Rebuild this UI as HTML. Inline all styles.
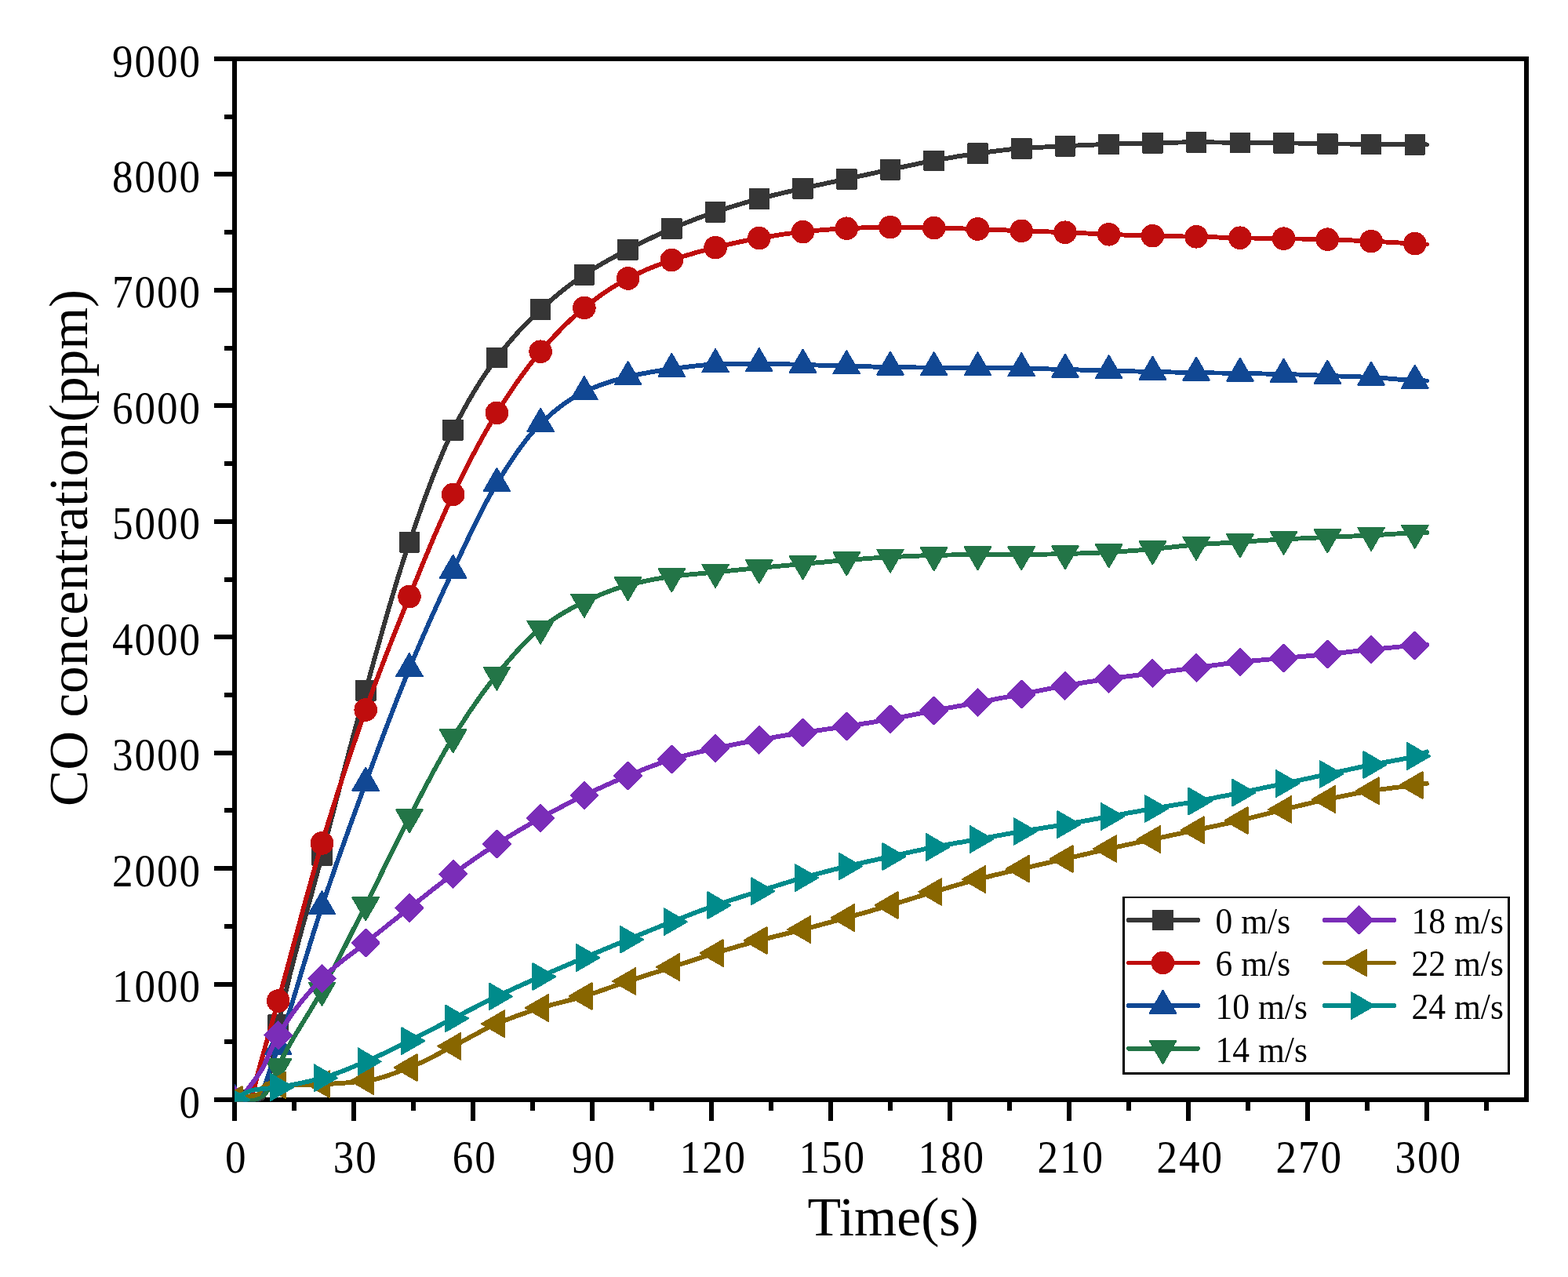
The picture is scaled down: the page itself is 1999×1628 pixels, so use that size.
<!DOCTYPE html>
<html lang="en">
<head>
<meta charset="utf-8">
<title>CO concentration vs Time</title>
<style>
html,body{margin:0;padding:0;background:#fff;}
body{width:1999px;height:1628px;overflow:hidden;}
svg{display:block;}
text{font-family:"Liberation Serif",serif;fill:#000;}
.tk{font-size:59px;}
.ax{font-size:69.7px;}
.ay{font-size:69.2px;}
.lg{font-size:43.5px;}
</style>
</head>
<body>
<svg width="1999" height="1628" viewBox="0 0 1999 1628">
<rect x="0" y="0" width="1999" height="1628" fill="#ffffff"/>
<defs><clipPath id="plotclip"><rect x="299" y="72" width="1650" height="1332.5"/></clipPath></defs>
<g id="axes" stroke="#000" stroke-width="6" fill="none" stroke-linecap="butt" shape-rendering="crispEdges">
<rect x="299" y="75" width="1647" height="1327"/>
<line x1="273" y1="1402.00" x2="299" y2="1402.00"/>
<line x1="286" y1="1328.28" x2="299" y2="1328.28"/>
<line x1="273" y1="1254.56" x2="299" y2="1254.56"/>
<line x1="286" y1="1180.83" x2="299" y2="1180.83"/>
<line x1="273" y1="1107.11" x2="299" y2="1107.11"/>
<line x1="286" y1="1033.39" x2="299" y2="1033.39"/>
<line x1="273" y1="959.67" x2="299" y2="959.67"/>
<line x1="286" y1="885.94" x2="299" y2="885.94"/>
<line x1="273" y1="812.22" x2="299" y2="812.22"/>
<line x1="286" y1="738.50" x2="299" y2="738.50"/>
<line x1="273" y1="664.78" x2="299" y2="664.78"/>
<line x1="286" y1="591.06" x2="299" y2="591.06"/>
<line x1="273" y1="517.33" x2="299" y2="517.33"/>
<line x1="286" y1="443.61" x2="299" y2="443.61"/>
<line x1="273" y1="369.89" x2="299" y2="369.89"/>
<line x1="286" y1="296.17" x2="299" y2="296.17"/>
<line x1="273" y1="222.44" x2="299" y2="222.44"/>
<line x1="286" y1="148.72" x2="299" y2="148.72"/>
<line x1="273" y1="75.00" x2="299" y2="75.00"/>
<line x1="299.00" y1="1402" x2="299.00" y2="1428.5"/>
<line x1="375.00" y1="1402" x2="375.00" y2="1415.8"/>
<line x1="451.00" y1="1402" x2="451.00" y2="1428.5"/>
<line x1="527.00" y1="1402" x2="527.00" y2="1415.8"/>
<line x1="603.00" y1="1402" x2="603.00" y2="1428.5"/>
<line x1="679.00" y1="1402" x2="679.00" y2="1415.8"/>
<line x1="755.00" y1="1402" x2="755.00" y2="1428.5"/>
<line x1="831.00" y1="1402" x2="831.00" y2="1415.8"/>
<line x1="907.00" y1="1402" x2="907.00" y2="1428.5"/>
<line x1="983.00" y1="1402" x2="983.00" y2="1415.8"/>
<line x1="1059.00" y1="1402" x2="1059.00" y2="1428.5"/>
<line x1="1135.00" y1="1402" x2="1135.00" y2="1415.8"/>
<line x1="1211.00" y1="1402" x2="1211.00" y2="1428.5"/>
<line x1="1287.00" y1="1402" x2="1287.00" y2="1415.8"/>
<line x1="1363.00" y1="1402" x2="1363.00" y2="1428.5"/>
<line x1="1439.00" y1="1402" x2="1439.00" y2="1415.8"/>
<line x1="1515.00" y1="1402" x2="1515.00" y2="1428.5"/>
<line x1="1591.00" y1="1402" x2="1591.00" y2="1415.8"/>
<line x1="1667.00" y1="1402" x2="1667.00" y2="1428.5"/>
<line x1="1743.00" y1="1402" x2="1743.00" y2="1415.8"/>
<line x1="1819.00" y1="1402" x2="1819.00" y2="1428.5"/>
<line x1="1895.00" y1="1402" x2="1895.00" y2="1415.8"/>
</g>
<g id="ylabels" class="tk">
<text transform="translate(228.48 1424.60) scale(0.9 1)" letter-spacing="2.17">0</text>
<text transform="translate(142.98 1277.16) scale(0.9 1)" letter-spacing="2.17">1000</text>
<text transform="translate(142.98 1129.71) scale(0.9 1)" letter-spacing="2.17">2000</text>
<text transform="translate(142.98 982.27) scale(0.9 1)" letter-spacing="2.17">3000</text>
<text transform="translate(142.98 834.82) scale(0.9 1)" letter-spacing="2.17">4000</text>
<text transform="translate(142.98 687.38) scale(0.9 1)" letter-spacing="2.17">5000</text>
<text transform="translate(142.98 539.93) scale(0.9 1)" letter-spacing="2.17">6000</text>
<text transform="translate(142.98 392.49) scale(0.9 1)" letter-spacing="2.17">7000</text>
<text transform="translate(142.98 245.04) scale(0.9 1)" letter-spacing="2.17">8000</text>
<text transform="translate(142.98 97.60) scale(0.9 1)" letter-spacing="2.17">9000</text>
</g>
<g id="xlabels" class="tk">
<text transform="translate(287.03 1494.5) scale(0.9 1)" letter-spacing="2.17">0</text>
<text transform="translate(424.78 1494.5) scale(0.9 1)" letter-spacing="2.17">30</text>
<text transform="translate(576.77 1494.5) scale(0.9 1)" letter-spacing="2.17">60</text>
<text transform="translate(728.77 1494.5) scale(0.9 1)" letter-spacing="2.17">90</text>
<text transform="translate(866.52 1494.5) scale(0.9 1)" letter-spacing="2.17">120</text>
<text transform="translate(1018.52 1494.5) scale(0.9 1)" letter-spacing="2.17">150</text>
<text transform="translate(1170.52 1494.5) scale(0.9 1)" letter-spacing="2.17">180</text>
<text transform="translate(1322.52 1494.5) scale(0.9 1)" letter-spacing="2.17">210</text>
<text transform="translate(1474.52 1494.5) scale(0.9 1)" letter-spacing="2.17">240</text>
<text transform="translate(1626.52 1494.5) scale(0.9 1)" letter-spacing="2.17">270</text>
<text transform="translate(1778.52 1494.5) scale(0.9 1)" letter-spacing="2.17">300</text>
</g>
<text class="ax" x="1138.6" y="1575.3" text-anchor="middle">Time(s)</text>
<text class="ay" transform="translate(111,698.5) rotate(-90)" text-anchor="middle">CO concentration(ppm)</text>
<g id="data" clip-path="url(#plotclip)" shape-rendering="crispEdges">
<g>
<path d="M299.0,1402.0 L304.1,1402.0 L309.1,1402.0 L314.2,1402.0 L319.3,1402.0 L324.3,1402.0 L329.4,1402.0 L334.5,1399.9 L339.5,1391.3 L344.6,1367.3 L349.7,1335.1 L354.7,1306.3 L359.8,1283.8 L364.9,1262.3 L369.9,1241.7 L375.0,1221.9 L380.1,1202.7 L385.1,1183.8 L390.2,1165.3 L395.3,1146.8 L400.3,1128.3 L405.4,1109.5 L410.5,1090.4 L415.5,1071.0 L420.6,1051.5 L425.7,1032.1 L430.7,1012.6 L435.8,993.2 L440.9,973.9 L445.9,954.8 L451.0,935.8 L456.1,917.0 L461.1,898.4 L466.2,880.2 L471.3,862.1 L476.3,843.9 L481.4,825.8 L486.5,807.8 L491.5,790.0 L496.6,772.4 L501.7,755.2 L506.7,738.4 L511.8,722.1 L516.9,706.3 L521.9,691.2 L527.0,676.5 L532.1,662.0 L537.1,647.7 L542.2,633.7 L547.3,620.0 L552.3,606.8 L557.4,594.0 L562.5,581.7 L567.5,569.9 L572.6,558.7 L577.7,548.2 L582.7,538.2 L587.8,528.5 L592.9,519.2 L597.9,510.2 L603.0,501.6 L608.1,493.2 L613.1,485.2 L618.2,477.5 L623.3,470.1 L628.3,462.9 L633.4,456.1 L638.5,449.5 L643.5,443.2 L648.6,437.0 L653.7,431.1 L658.7,425.4 L663.8,419.8 L668.9,414.5 L673.9,409.3 L679.0,404.2 L684.1,399.4 L689.1,394.6 L694.2,390.0 L699.3,385.5 L704.3,381.1 L709.4,376.8 L714.5,372.6 L719.5,368.6 L724.6,364.7 L729.7,360.9 L734.7,357.2 L739.8,353.6 L744.9,350.2 L749.9,346.9 L755.0,343.7 L760.1,340.6 L765.1,337.6 L770.2,334.6 L775.3,331.8 L780.3,329.0 L785.4,326.2 L790.5,323.5 L795.5,320.8 L800.6,318.2 L805.7,315.6 L810.7,313.0 L815.8,310.4 L820.9,307.9 L825.9,305.5 L831.0,303.0 L836.1,300.6 L841.1,298.3 L846.2,296.0 L851.3,293.8 L856.3,291.6 L861.4,289.5 L866.5,287.4 L871.5,285.3 L876.6,283.3 L881.7,281.3 L886.7,279.3 L891.8,277.4 L896.9,275.5 L901.9,273.7 L907.0,271.9 L912.1,270.2 L917.1,268.5 L922.2,266.9 L927.3,265.2 L932.3,263.7 L937.4,262.1 L942.5,260.6 L947.5,259.1 L952.6,257.7 L957.7,256.3 L962.7,254.9 L967.8,253.5 L972.9,252.2 L977.9,250.9 L983.0,249.6 L988.1,248.4 L993.1,247.2 L998.2,246.0 L1003.3,244.8 L1008.3,243.6 L1013.4,242.5 L1018.5,241.3 L1023.5,240.2 L1028.6,239.1 L1033.7,237.9 L1038.7,236.8 L1043.8,235.7 L1048.9,234.7 L1053.9,233.6 L1059.0,232.5 L1064.1,231.4 L1069.1,230.4 L1074.2,229.3 L1079.3,228.2 L1084.3,227.1 L1089.4,226.0 L1094.5,224.9 L1099.5,223.8 L1104.6,222.7 L1109.7,221.6 L1114.7,220.5 L1119.8,219.4 L1124.9,218.3 L1129.9,217.3 L1135.0,216.2 L1140.1,215.1 L1145.1,214.1 L1150.2,213.0 L1155.3,211.9 L1160.3,210.8 L1165.4,209.8 L1170.5,208.7 L1175.5,207.7 L1180.6,206.7 L1185.7,205.7 L1190.7,204.8 L1195.8,203.9 L1200.9,203.0 L1205.9,202.1 L1211.0,201.2 L1216.1,200.3 L1221.1,199.4 L1226.2,198.6 L1231.3,197.8 L1236.3,197.0 L1241.4,196.3 L1246.5,195.6 L1251.5,194.9 L1256.6,194.2 L1261.7,193.6 L1266.7,192.9 L1271.8,192.3 L1276.9,191.7 L1281.9,191.1 L1287.0,190.5 L1292.1,190.1 L1297.1,189.6 L1302.2,189.2 L1307.3,188.8 L1312.3,188.5 L1317.4,188.2 L1322.5,187.9 L1327.5,187.7 L1332.6,187.4 L1337.7,187.2 L1342.7,186.9 L1347.8,186.7 L1352.9,186.4 L1357.9,186.2 L1363.0,186.0 L1368.1,185.7 L1373.1,185.5 L1378.2,185.2 L1383.3,185.0 L1388.3,184.8 L1393.4,184.6 L1398.5,184.4 L1403.5,184.2 L1408.6,184.0 L1413.7,183.8 L1418.7,183.6 L1423.8,183.5 L1428.9,183.3 L1433.9,183.2 L1439.0,183.0 L1444.1,182.9 L1449.1,182.8 L1454.2,182.6 L1459.3,182.5 L1464.3,182.4 L1469.4,182.3 L1474.5,182.2 L1479.5,182.1 L1484.6,181.9 L1489.7,181.8 L1494.7,181.7 L1499.8,181.6 L1504.9,181.5 L1509.9,181.4 L1515.0,181.4 L1520.1,181.3 L1525.1,181.3 L1530.2,181.3 L1535.3,181.3 L1540.3,181.4 L1545.4,181.4 L1550.5,181.5 L1555.5,181.5 L1560.6,181.6 L1565.7,181.6 L1570.7,181.7 L1575.8,181.8 L1580.9,181.8 L1585.9,181.8 L1591.0,181.9 L1596.1,181.9 L1601.1,182.0 L1606.2,182.0 L1611.3,182.1 L1616.3,182.1 L1621.4,182.1 L1626.5,182.2 L1631.5,182.2 L1636.6,182.3 L1641.7,182.4 L1646.7,182.5 L1651.8,182.5 L1656.9,182.6 L1661.9,182.7 L1667.0,182.9 L1672.1,183.0 L1677.1,183.1 L1682.2,183.1 L1687.3,183.2 L1692.3,183.3 L1697.4,183.4 L1702.5,183.4 L1707.5,183.5 L1712.6,183.5 L1717.7,183.5 L1722.7,183.6 L1727.8,183.6 L1732.9,183.7 L1737.9,183.7 L1743.0,183.8 L1748.1,183.8 L1753.1,183.8 L1758.2,183.9 L1763.3,183.9 L1768.3,184.0 L1773.4,184.0 L1778.5,184.1 L1783.5,184.1 L1788.6,184.2 L1793.7,184.2 L1798.7,184.3 L1803.8,184.3 L1808.9,184.3 L1813.9,184.4 L1819.0,184.4" fill="none" stroke="#363636" stroke-width="5.9" stroke-linejoin="round" stroke-linecap="round"/>
<rect x="286.70" y="1389.70" width="24.60" height="24.60" fill="#363636" stroke="#363636" stroke-width="2.0" stroke-linejoin="round"/>
<rect x="342.43" y="1294.00" width="24.60" height="24.60" fill="#363636" stroke="#363636" stroke-width="2.0" stroke-linejoin="round"/>
<rect x="398.17" y="1078.10" width="24.60" height="24.60" fill="#363636" stroke="#363636" stroke-width="2.0" stroke-linejoin="round"/>
<rect x="453.90" y="867.90" width="24.60" height="24.60" fill="#363636" stroke="#363636" stroke-width="2.0" stroke-linejoin="round"/>
<rect x="509.63" y="678.90" width="24.60" height="24.60" fill="#363636" stroke="#363636" stroke-width="2.0" stroke-linejoin="round"/>
<rect x="565.37" y="535.90" width="24.60" height="24.60" fill="#363636" stroke="#363636" stroke-width="2.0" stroke-linejoin="round"/>
<rect x="621.10" y="443.80" width="24.60" height="24.60" fill="#363636" stroke="#363636" stroke-width="2.0" stroke-linejoin="round"/>
<rect x="676.83" y="382.30" width="24.60" height="24.60" fill="#363636" stroke="#363636" stroke-width="2.0" stroke-linejoin="round"/>
<rect x="732.57" y="337.90" width="24.60" height="24.60" fill="#363636" stroke="#363636" stroke-width="2.0" stroke-linejoin="round"/>
<rect x="788.30" y="305.90" width="24.60" height="24.60" fill="#363636" stroke="#363636" stroke-width="2.0" stroke-linejoin="round"/>
<rect x="844.03" y="279.30" width="24.60" height="24.60" fill="#363636" stroke="#363636" stroke-width="2.0" stroke-linejoin="round"/>
<rect x="899.77" y="257.90" width="24.60" height="24.60" fill="#363636" stroke="#363636" stroke-width="2.0" stroke-linejoin="round"/>
<rect x="955.50" y="241.20" width="24.60" height="24.60" fill="#363636" stroke="#363636" stroke-width="2.0" stroke-linejoin="round"/>
<rect x="1011.23" y="227.90" width="24.60" height="24.60" fill="#363636" stroke="#363636" stroke-width="2.0" stroke-linejoin="round"/>
<rect x="1066.97" y="215.90" width="24.60" height="24.60" fill="#363636" stroke="#363636" stroke-width="2.0" stroke-linejoin="round"/>
<rect x="1122.70" y="203.90" width="24.60" height="24.60" fill="#363636" stroke="#363636" stroke-width="2.0" stroke-linejoin="round"/>
<rect x="1178.43" y="192.50" width="24.60" height="24.60" fill="#363636" stroke="#363636" stroke-width="2.0" stroke-linejoin="round"/>
<rect x="1234.17" y="183.30" width="24.60" height="24.60" fill="#363636" stroke="#363636" stroke-width="2.0" stroke-linejoin="round"/>
<rect x="1289.90" y="176.90" width="24.60" height="24.60" fill="#363636" stroke="#363636" stroke-width="2.0" stroke-linejoin="round"/>
<rect x="1345.63" y="173.90" width="24.60" height="24.60" fill="#363636" stroke="#363636" stroke-width="2.0" stroke-linejoin="round"/>
<rect x="1401.37" y="171.50" width="24.60" height="24.60" fill="#363636" stroke="#363636" stroke-width="2.0" stroke-linejoin="round"/>
<rect x="1457.10" y="170.00" width="24.60" height="24.60" fill="#363636" stroke="#363636" stroke-width="2.0" stroke-linejoin="round"/>
<rect x="1512.83" y="169.00" width="24.60" height="24.60" fill="#363636" stroke="#363636" stroke-width="2.0" stroke-linejoin="round"/>
<rect x="1568.57" y="169.50" width="24.60" height="24.60" fill="#363636" stroke="#363636" stroke-width="2.0" stroke-linejoin="round"/>
<rect x="1624.30" y="170.00" width="24.60" height="24.60" fill="#363636" stroke="#363636" stroke-width="2.0" stroke-linejoin="round"/>
<rect x="1680.03" y="171.00" width="24.60" height="24.60" fill="#363636" stroke="#363636" stroke-width="2.0" stroke-linejoin="round"/>
<rect x="1735.77" y="171.50" width="24.60" height="24.60" fill="#363636" stroke="#363636" stroke-width="2.0" stroke-linejoin="round"/>
<rect x="1791.50" y="172.00" width="24.60" height="24.60" fill="#363636" stroke="#363636" stroke-width="2.0" stroke-linejoin="round"/>
</g>
<g>
<path d="M299.0,1402.0 L304.1,1402.0 L309.1,1402.0 L314.2,1402.0 L319.3,1398.9 L324.3,1387.5 L329.4,1365.9 L334.5,1347.6 L339.5,1329.6 L344.6,1311.8 L349.7,1294.0 L354.7,1276.0 L359.8,1257.7 L364.9,1239.2 L369.9,1220.6 L375.0,1201.8 L380.1,1183.0 L385.1,1164.3 L390.2,1145.8 L395.3,1127.5 L400.3,1109.6 L405.4,1092.0 L410.5,1075.0 L415.5,1058.4 L420.6,1042.0 L425.7,1025.8 L430.7,1009.9 L435.8,994.3 L440.9,978.8 L445.9,963.6 L451.0,948.6 L456.1,933.8 L461.1,919.3 L466.2,905.0 L471.3,890.9 L476.3,877.1 L481.4,863.5 L486.5,850.1 L491.5,836.9 L496.6,823.8 L501.7,810.9 L506.7,798.2 L511.8,785.5 L516.9,773.0 L521.9,760.5 L527.0,748.1 L532.1,735.6 L537.1,723.2 L542.2,711.0 L547.3,698.8 L552.3,686.8 L557.4,675.0 L562.5,663.4 L567.5,652.1 L572.6,641.1 L577.7,630.4 L582.7,620.0 L587.8,609.7 L592.9,599.6 L597.9,589.6 L603.0,579.9 L608.1,570.4 L613.1,561.1 L618.2,552.0 L623.3,543.2 L628.3,534.7 L633.4,526.4 L638.5,518.4 L643.5,510.5 L648.6,502.8 L653.7,495.2 L658.7,487.9 L663.8,480.7 L668.9,473.8 L673.9,467.0 L679.0,460.5 L684.1,454.2 L689.1,448.2 L694.2,442.3 L699.3,436.6 L704.3,431.0 L709.4,425.6 L714.5,420.3 L719.5,415.2 L724.6,410.3 L729.7,405.5 L734.7,401.0 L739.8,396.6 L744.9,392.4 L749.9,388.4 L755.0,384.5 L760.1,380.7 L765.1,377.0 L770.2,373.4 L775.3,370.0 L780.3,366.7 L785.4,363.6 L790.5,360.6 L795.5,357.7 L800.6,355.0 L805.7,352.4 L810.7,350.0 L815.8,347.6 L820.9,345.3 L825.9,343.1 L831.0,341.0 L836.1,339.0 L841.1,337.1 L846.2,335.2 L851.3,333.4 L856.3,331.6 L861.4,329.9 L866.5,328.3 L871.5,326.7 L876.6,325.1 L881.7,323.7 L886.7,322.2 L891.8,320.8 L896.9,319.5 L901.9,318.1 L907.0,316.9 L912.1,315.6 L917.1,314.4 L922.2,313.1 L927.3,312.0 L932.3,310.8 L937.4,309.6 L942.5,308.5 L947.5,307.5 L952.6,306.4 L957.7,305.4 L962.7,304.5 L967.8,303.6 L972.9,302.7 L977.9,301.9 L983.0,301.1 L988.1,300.3 L993.1,299.5 L998.2,298.7 L1003.3,298.0 L1008.3,297.4 L1013.4,296.7 L1018.5,296.1 L1023.5,295.6 L1028.6,295.1 L1033.7,294.6 L1038.7,294.1 L1043.8,293.6 L1048.9,293.2 L1053.9,292.8 L1059.0,292.4 L1064.1,292.0 L1069.1,291.7 L1074.2,291.4 L1079.3,291.2 L1084.3,291.0 L1089.4,290.8 L1094.5,290.6 L1099.5,290.4 L1104.6,290.2 L1109.7,290.0 L1114.7,289.9 L1119.8,289.8 L1124.9,289.7 L1129.9,289.6 L1135.0,289.6 L1140.1,289.6 L1145.1,289.7 L1150.2,289.7 L1155.3,289.8 L1160.3,289.9 L1165.4,290.0 L1170.5,290.1 L1175.5,290.2 L1180.6,290.4 L1185.7,290.5 L1190.7,290.6 L1195.8,290.7 L1200.9,290.8 L1205.9,290.9 L1211.0,291.0 L1216.1,291.2 L1221.1,291.3 L1226.2,291.4 L1231.3,291.6 L1236.3,291.7 L1241.4,291.8 L1246.5,292.0 L1251.5,292.2 L1256.6,292.4 L1261.7,292.6 L1266.7,292.8 L1271.8,293.0 L1276.9,293.2 L1281.9,293.4 L1287.0,293.7 L1292.1,293.9 L1297.1,294.1 L1302.2,294.3 L1307.3,294.5 L1312.3,294.7 L1317.4,294.8 L1322.5,295.0 L1327.5,295.2 L1332.6,295.3 L1337.7,295.5 L1342.7,295.6 L1347.8,295.8 L1352.9,296.0 L1357.9,296.2 L1363.0,296.4 L1368.1,296.6 L1373.1,296.9 L1378.2,297.1 L1383.3,297.4 L1388.3,297.6 L1393.4,297.9 L1398.5,298.1 L1403.5,298.4 L1408.6,298.6 L1413.7,298.8 L1418.7,299.0 L1423.8,299.2 L1428.9,299.4 L1433.9,299.6 L1439.0,299.8 L1444.1,299.9 L1449.1,300.1 L1454.2,300.3 L1459.3,300.4 L1464.3,300.6 L1469.4,300.7 L1474.5,300.8 L1479.5,300.9 L1484.6,301.0 L1489.7,301.1 L1494.7,301.2 L1499.8,301.3 L1504.9,301.4 L1509.9,301.5 L1515.0,301.6 L1520.1,301.7 L1525.1,301.8 L1530.2,301.9 L1535.3,302.0 L1540.3,302.2 L1545.4,302.3 L1550.5,302.4 L1555.5,302.6 L1560.6,302.7 L1565.7,302.8 L1570.7,303.0 L1575.8,303.1 L1580.9,303.2 L1585.9,303.3 L1591.0,303.4 L1596.1,303.5 L1601.1,303.6 L1606.2,303.7 L1611.3,303.8 L1616.3,303.9 L1621.4,303.9 L1626.5,304.0 L1631.5,304.1 L1636.6,304.2 L1641.7,304.3 L1646.7,304.4 L1651.8,304.5 L1656.9,304.5 L1661.9,304.6 L1667.0,304.7 L1672.1,304.8 L1677.1,304.9 L1682.2,305.0 L1687.3,305.1 L1692.3,305.2 L1697.4,305.3 L1702.5,305.5 L1707.5,305.7 L1712.6,305.9 L1717.7,306.1 L1722.7,306.4 L1727.8,306.6 L1732.9,306.9 L1737.9,307.1 L1743.0,307.4 L1748.1,307.6 L1753.1,307.8 L1758.2,308.1 L1763.3,308.4 L1768.3,308.6 L1773.4,308.9 L1778.5,309.2 L1783.5,309.5 L1788.6,309.7 L1793.7,310.0 L1798.7,310.3 L1803.8,310.6 L1808.9,310.9 L1813.9,311.2 L1819.0,311.5" fill="none" stroke="#BF0D0D" stroke-width="5.9" stroke-linejoin="round" stroke-linecap="round"/>
<circle cx="299.00" cy="1402.00" r="14.8" fill="#BF0D0D"/>
<circle cx="354.73" cy="1276.00" r="14.8" fill="#BF0D0D"/>
<circle cx="410.47" cy="1075.00" r="14.8" fill="#BF0D0D"/>
<circle cx="466.20" cy="905.00" r="14.8" fill="#BF0D0D"/>
<circle cx="521.93" cy="760.50" r="14.8" fill="#BF0D0D"/>
<circle cx="577.67" cy="630.40" r="14.8" fill="#BF0D0D"/>
<circle cx="633.40" cy="526.40" r="14.8" fill="#BF0D0D"/>
<circle cx="689.13" cy="448.20" r="14.8" fill="#BF0D0D"/>
<circle cx="744.87" cy="392.40" r="14.8" fill="#BF0D0D"/>
<circle cx="800.60" cy="355.00" r="14.8" fill="#BF0D0D"/>
<circle cx="856.33" cy="331.60" r="14.8" fill="#BF0D0D"/>
<circle cx="912.07" cy="315.60" r="14.8" fill="#BF0D0D"/>
<circle cx="967.80" cy="303.60" r="14.8" fill="#BF0D0D"/>
<circle cx="1023.53" cy="295.60" r="14.8" fill="#BF0D0D"/>
<circle cx="1079.27" cy="291.20" r="14.8" fill="#BF0D0D"/>
<circle cx="1135.00" cy="289.60" r="14.8" fill="#BF0D0D"/>
<circle cx="1190.73" cy="290.60" r="14.8" fill="#BF0D0D"/>
<circle cx="1246.47" cy="292.00" r="14.8" fill="#BF0D0D"/>
<circle cx="1302.20" cy="294.30" r="14.8" fill="#BF0D0D"/>
<circle cx="1357.93" cy="296.20" r="14.8" fill="#BF0D0D"/>
<circle cx="1413.67" cy="298.80" r="14.8" fill="#BF0D0D"/>
<circle cx="1469.40" cy="300.70" r="14.8" fill="#BF0D0D"/>
<circle cx="1525.13" cy="301.80" r="14.8" fill="#BF0D0D"/>
<circle cx="1580.87" cy="303.20" r="14.8" fill="#BF0D0D"/>
<circle cx="1636.60" cy="304.20" r="14.8" fill="#BF0D0D"/>
<circle cx="1692.33" cy="305.20" r="14.8" fill="#BF0D0D"/>
<circle cx="1748.07" cy="307.60" r="14.8" fill="#BF0D0D"/>
<circle cx="1803.80" cy="310.60" r="14.8" fill="#BF0D0D"/>
</g>
<g>
<path d="M299.0,1402.0 L304.1,1402.0 L309.1,1402.0 L314.2,1402.0 L319.3,1402.0 L324.3,1402.0 L329.4,1400.8 L334.5,1394.2 L339.5,1378.4 L344.6,1362.7 L349.7,1348.7 L354.7,1334.2 L359.8,1318.9 L364.9,1303.1 L369.9,1286.8 L375.0,1270.3 L380.1,1253.6 L385.1,1236.8 L390.2,1220.1 L395.3,1203.5 L400.3,1187.2 L405.4,1171.2 L410.5,1155.7 L415.5,1140.6 L420.6,1125.7 L425.7,1110.9 L430.7,1096.4 L435.8,1082.0 L440.9,1067.7 L445.9,1053.6 L451.0,1039.6 L456.1,1025.6 L461.1,1011.8 L466.2,998.0 L471.3,984.2 L476.3,970.5 L481.4,956.9 L486.5,943.3 L491.5,929.8 L496.6,916.5 L501.7,903.3 L506.7,890.2 L511.8,877.4 L516.9,864.8 L521.9,852.4 L527.0,840.2 L532.1,828.2 L537.1,816.4 L542.2,804.8 L547.3,793.2 L552.3,781.9 L557.4,770.7 L562.5,759.6 L567.5,748.6 L572.6,737.7 L577.7,727.0 L582.7,716.3 L587.8,705.5 L592.9,694.7 L597.9,684.0 L603.0,673.5 L608.1,663.1 L613.1,653.0 L618.2,643.3 L623.3,633.8 L628.3,624.9 L633.4,616.4 L638.5,608.2 L643.5,600.2 L648.6,592.3 L653.7,584.7 L658.7,577.3 L663.8,570.1 L668.9,563.3 L673.9,556.9 L679.0,550.9 L684.1,545.3 L689.1,540.2 L694.2,535.5 L699.3,530.9 L704.3,526.5 L709.4,522.3 L714.5,518.3 L719.5,514.5 L724.6,511.0 L729.7,507.7 L734.7,504.7 L739.8,501.9 L744.9,499.4 L749.9,497.1 L755.0,494.9 L760.1,492.9 L765.1,491.0 L770.2,489.2 L775.3,487.5 L780.3,485.9 L785.4,484.4 L790.5,483.0 L795.5,481.6 L800.6,480.4 L805.7,479.2 L810.7,478.1 L815.8,477.0 L820.9,476.0 L825.9,475.1 L831.0,474.2 L836.1,473.3 L841.1,472.5 L846.2,471.7 L851.3,471.0 L856.3,470.3 L861.4,469.6 L866.5,469.0 L871.5,468.3 L876.6,467.7 L881.7,467.1 L886.7,466.5 L891.8,466.0 L896.9,465.5 L901.9,465.1 L907.0,464.8 L912.1,464.6 L917.1,464.4 L922.2,464.3 L927.3,464.1 L932.3,464.0 L937.4,463.9 L942.5,463.8 L947.5,463.7 L952.6,463.6 L957.7,463.5 L962.7,463.5 L967.8,463.5 L972.9,463.5 L977.9,463.6 L983.0,463.7 L988.1,463.8 L993.1,464.0 L998.2,464.1 L1003.3,464.3 L1008.3,464.5 L1013.4,464.7 L1018.5,464.8 L1023.5,465.0 L1028.6,465.1 L1033.7,465.3 L1038.7,465.4 L1043.8,465.6 L1048.9,465.7 L1053.9,465.9 L1059.0,466.0 L1064.1,466.2 L1069.1,466.3 L1074.2,466.5 L1079.3,466.6 L1084.3,466.7 L1089.4,466.9 L1094.5,467.0 L1099.5,467.2 L1104.6,467.3 L1109.7,467.4 L1114.7,467.6 L1119.8,467.7 L1124.9,467.8 L1129.9,467.9 L1135.0,468.0 L1140.1,468.1 L1145.1,468.1 L1150.2,468.2 L1155.3,468.3 L1160.3,468.4 L1165.4,468.4 L1170.5,468.5 L1175.5,468.5 L1180.6,468.5 L1185.7,468.6 L1190.7,468.6 L1195.8,468.6 L1200.9,468.6 L1205.9,468.6 L1211.0,468.6 L1216.1,468.6 L1221.1,468.7 L1226.2,468.7 L1231.3,468.7 L1236.3,468.7 L1241.4,468.7 L1246.5,468.7 L1251.5,468.7 L1256.6,468.8 L1261.7,468.8 L1266.7,468.9 L1271.8,469.0 L1276.9,469.1 L1281.9,469.2 L1287.0,469.3 L1292.1,469.4 L1297.1,469.5 L1302.2,469.6 L1307.3,469.7 L1312.3,469.8 L1317.4,469.9 L1322.5,470.1 L1327.5,470.2 L1332.6,470.3 L1337.7,470.5 L1342.7,470.6 L1347.8,470.7 L1352.9,470.9 L1357.9,471.0 L1363.0,471.1 L1368.1,471.3 L1373.1,471.4 L1378.2,471.6 L1383.3,471.7 L1388.3,471.9 L1393.4,472.0 L1398.5,472.2 L1403.5,472.3 L1408.6,472.5 L1413.7,472.6 L1418.7,472.7 L1423.8,472.9 L1428.9,473.0 L1433.9,473.1 L1439.0,473.3 L1444.1,473.4 L1449.1,473.5 L1454.2,473.7 L1459.3,473.8 L1464.3,473.9 L1469.4,474.0 L1474.5,474.1 L1479.5,474.2 L1484.6,474.3 L1489.7,474.4 L1494.7,474.5 L1499.8,474.6 L1504.9,474.7 L1509.9,474.7 L1515.0,474.8 L1520.1,474.9 L1525.1,475.0 L1530.2,475.1 L1535.3,475.2 L1540.3,475.3 L1545.4,475.4 L1550.5,475.5 L1555.5,475.5 L1560.6,475.6 L1565.7,475.7 L1570.7,475.8 L1575.8,475.9 L1580.9,476.0 L1585.9,476.1 L1591.0,476.2 L1596.1,476.3 L1601.1,476.3 L1606.2,476.4 L1611.3,476.5 L1616.3,476.6 L1621.4,476.7 L1626.5,476.8 L1631.5,476.9 L1636.6,477.0 L1641.7,477.1 L1646.7,477.3 L1651.8,477.4 L1656.9,477.6 L1661.9,477.8 L1667.0,478.0 L1672.1,478.2 L1677.1,478.4 L1682.2,478.6 L1687.3,478.8 L1692.3,479.0 L1697.4,479.2 L1702.5,479.3 L1707.5,479.5 L1712.6,479.7 L1717.7,479.8 L1722.7,480.0 L1727.8,480.2 L1732.9,480.4 L1737.9,480.6 L1743.0,480.8 L1748.1,481.0 L1753.1,481.3 L1758.2,481.6 L1763.3,482.0 L1768.3,482.4 L1773.4,482.8 L1778.5,483.3 L1783.5,483.7 L1788.6,484.1 L1793.7,484.4 L1798.7,484.8 L1803.8,485.0 L1808.9,485.2 L1813.9,485.4 L1819.0,485.5" fill="none" stroke="#114894" stroke-width="5.9" stroke-linejoin="round" stroke-linecap="round"/>
<polygon points="299.00,1382.60 282.20,1411.70 315.80,1411.70" fill="#114894" stroke="#114894" stroke-width="2.0" stroke-linejoin="round"/>
<polygon points="354.73,1314.80 337.93,1343.90 371.53,1343.90" fill="#114894" stroke="#114894" stroke-width="2.0" stroke-linejoin="round"/>
<polygon points="410.47,1136.30 393.67,1165.40 427.27,1165.40" fill="#114894" stroke="#114894" stroke-width="2.0" stroke-linejoin="round"/>
<polygon points="466.20,978.60 449.40,1007.70 483.00,1007.70" fill="#114894" stroke="#114894" stroke-width="2.0" stroke-linejoin="round"/>
<polygon points="521.93,833.00 505.13,862.10 538.73,862.10" fill="#114894" stroke="#114894" stroke-width="2.0" stroke-linejoin="round"/>
<polygon points="577.67,707.60 560.87,736.70 594.47,736.70" fill="#114894" stroke="#114894" stroke-width="2.0" stroke-linejoin="round"/>
<polygon points="633.40,597.00 616.60,626.10 650.20,626.10" fill="#114894" stroke="#114894" stroke-width="2.0" stroke-linejoin="round"/>
<polygon points="689.13,520.80 672.33,549.90 705.93,549.90" fill="#114894" stroke="#114894" stroke-width="2.0" stroke-linejoin="round"/>
<polygon points="744.87,480.00 728.07,509.10 761.67,509.10" fill="#114894" stroke="#114894" stroke-width="2.0" stroke-linejoin="round"/>
<polygon points="800.60,461.00 783.80,490.10 817.40,490.10" fill="#114894" stroke="#114894" stroke-width="2.0" stroke-linejoin="round"/>
<polygon points="856.33,450.90 839.53,480.00 873.13,480.00" fill="#114894" stroke="#114894" stroke-width="2.0" stroke-linejoin="round"/>
<polygon points="912.07,445.20 895.27,474.30 928.87,474.30" fill="#114894" stroke="#114894" stroke-width="2.0" stroke-linejoin="round"/>
<polygon points="967.80,444.10 951.00,473.20 984.60,473.20" fill="#114894" stroke="#114894" stroke-width="2.0" stroke-linejoin="round"/>
<polygon points="1023.53,445.60 1006.73,474.70 1040.33,474.70" fill="#114894" stroke="#114894" stroke-width="2.0" stroke-linejoin="round"/>
<polygon points="1079.27,447.20 1062.47,476.30 1096.07,476.30" fill="#114894" stroke="#114894" stroke-width="2.0" stroke-linejoin="round"/>
<polygon points="1135.00,448.60 1118.20,477.70 1151.80,477.70" fill="#114894" stroke="#114894" stroke-width="2.0" stroke-linejoin="round"/>
<polygon points="1190.73,449.20 1173.93,478.30 1207.53,478.30" fill="#114894" stroke="#114894" stroke-width="2.0" stroke-linejoin="round"/>
<polygon points="1246.47,449.30 1229.67,478.40 1263.27,478.40" fill="#114894" stroke="#114894" stroke-width="2.0" stroke-linejoin="round"/>
<polygon points="1302.20,450.20 1285.40,479.30 1319.00,479.30" fill="#114894" stroke="#114894" stroke-width="2.0" stroke-linejoin="round"/>
<polygon points="1357.93,451.60 1341.13,480.70 1374.73,480.70" fill="#114894" stroke="#114894" stroke-width="2.0" stroke-linejoin="round"/>
<polygon points="1413.67,453.20 1396.87,482.30 1430.47,482.30" fill="#114894" stroke="#114894" stroke-width="2.0" stroke-linejoin="round"/>
<polygon points="1469.40,454.60 1452.60,483.70 1486.20,483.70" fill="#114894" stroke="#114894" stroke-width="2.0" stroke-linejoin="round"/>
<polygon points="1525.13,455.60 1508.33,484.70 1541.93,484.70" fill="#114894" stroke="#114894" stroke-width="2.0" stroke-linejoin="round"/>
<polygon points="1580.87,456.60 1564.07,485.70 1597.67,485.70" fill="#114894" stroke="#114894" stroke-width="2.0" stroke-linejoin="round"/>
<polygon points="1636.60,457.60 1619.80,486.70 1653.40,486.70" fill="#114894" stroke="#114894" stroke-width="2.0" stroke-linejoin="round"/>
<polygon points="1692.33,459.60 1675.53,488.70 1709.13,488.70" fill="#114894" stroke="#114894" stroke-width="2.0" stroke-linejoin="round"/>
<polygon points="1748.07,461.60 1731.27,490.70 1764.87,490.70" fill="#114894" stroke="#114894" stroke-width="2.0" stroke-linejoin="round"/>
<polygon points="1803.80,465.60 1787.00,494.70 1820.60,494.70" fill="#114894" stroke="#114894" stroke-width="2.0" stroke-linejoin="round"/>
</g>
<g>
<path d="M299.0,1402.0 L304.1,1402.0 L309.1,1402.0 L314.2,1402.0 L319.3,1402.0 L324.3,1401.8 L329.4,1400.2 L334.5,1397.7 L339.5,1392.7 L344.6,1384.4 L349.7,1371.7 L354.7,1359.3 L359.8,1349.2 L364.9,1339.7 L369.9,1330.6 L375.0,1321.9 L380.1,1313.5 L385.1,1305.2 L390.2,1297.0 L395.3,1288.7 L400.3,1280.2 L405.4,1271.5 L410.5,1262.4 L415.5,1253.0 L420.6,1243.5 L425.7,1233.8 L430.7,1224.0 L435.8,1214.1 L440.9,1204.2 L445.9,1194.2 L451.0,1184.1 L456.1,1174.1 L461.1,1164.0 L466.2,1154.0 L471.3,1143.9 L476.3,1133.7 L481.4,1123.4 L486.5,1113.1 L491.5,1102.7 L496.6,1092.4 L501.7,1082.1 L506.7,1071.9 L511.8,1061.8 L516.9,1051.8 L521.9,1042.0 L527.0,1032.3 L532.1,1022.5 L537.1,1012.8 L542.2,1003.2 L547.3,993.6 L552.3,984.1 L557.4,974.9 L562.5,965.8 L567.5,956.9 L572.6,948.3 L577.7,940.0 L582.7,931.9 L587.8,924.0 L592.9,916.2 L597.9,908.5 L603.0,901.1 L608.1,893.8 L613.1,886.6 L618.2,879.7 L623.3,873.0 L628.3,866.5 L633.4,860.2 L638.5,854.1 L643.5,848.0 L648.6,842.0 L653.7,836.1 L658.7,830.4 L663.8,824.9 L668.9,819.6 L673.9,814.5 L679.0,809.7 L684.1,805.3 L689.1,801.2 L694.2,797.4 L699.3,793.7 L704.3,790.2 L709.4,786.9 L714.5,783.7 L719.5,780.7 L724.6,777.8 L729.7,775.0 L734.7,772.4 L739.8,769.8 L744.9,767.4 L749.9,765.0 L755.0,762.7 L760.1,760.5 L765.1,758.3 L770.2,756.2 L775.3,754.3 L780.3,752.4 L785.4,750.6 L790.5,748.9 L795.5,747.4 L800.6,746.0 L805.7,744.7 L810.7,743.5 L815.8,742.3 L820.9,741.2 L825.9,740.1 L831.0,739.1 L836.1,738.2 L841.1,737.3 L846.2,736.5 L851.3,735.7 L856.3,735.0 L861.4,734.4 L866.5,733.8 L871.5,733.2 L876.6,732.7 L881.7,732.2 L886.7,731.7 L891.8,731.3 L896.9,730.8 L901.9,730.4 L907.0,729.9 L912.1,729.4 L917.1,728.9 L922.2,728.4 L927.3,727.9 L932.3,727.4 L937.4,726.9 L942.5,726.4 L947.5,725.9 L952.6,725.4 L957.7,725.0 L962.7,724.5 L967.8,724.0 L972.9,723.5 L977.9,723.1 L983.0,722.6 L988.1,722.2 L993.1,721.7 L998.2,721.3 L1003.3,720.8 L1008.3,720.4 L1013.4,719.9 L1018.5,719.5 L1023.5,719.0 L1028.6,718.5 L1033.7,718.1 L1038.7,717.6 L1043.8,717.1 L1048.9,716.7 L1053.9,716.2 L1059.0,715.7 L1064.1,715.3 L1069.1,714.8 L1074.2,714.4 L1079.3,714.0 L1084.3,713.6 L1089.4,713.2 L1094.5,712.8 L1099.5,712.5 L1104.6,712.1 L1109.7,711.7 L1114.7,711.4 L1119.8,711.1 L1124.9,710.8 L1129.9,710.5 L1135.0,710.2 L1140.1,709.9 L1145.1,709.7 L1150.2,709.5 L1155.3,709.2 L1160.3,709.0 L1165.4,708.8 L1170.5,708.6 L1175.5,708.4 L1180.6,708.3 L1185.7,708.1 L1190.7,708.0 L1195.8,707.9 L1200.9,707.7 L1205.9,707.6 L1211.0,707.5 L1216.1,707.4 L1221.1,707.3 L1226.2,707.2 L1231.3,707.1 L1236.3,707.0 L1241.4,707.0 L1246.5,707.0 L1251.5,707.0 L1256.6,707.0 L1261.7,707.0 L1266.7,707.0 L1271.8,707.0 L1276.9,707.0 L1281.9,707.0 L1287.0,707.0 L1292.1,707.0 L1297.1,707.0 L1302.2,707.0 L1307.3,707.0 L1312.3,706.9 L1317.4,706.9 L1322.5,706.8 L1327.5,706.7 L1332.6,706.6 L1337.7,706.5 L1342.7,706.4 L1347.8,706.2 L1352.9,706.1 L1357.9,706.0 L1363.0,705.9 L1368.1,705.7 L1373.1,705.6 L1378.2,705.4 L1383.3,705.3 L1388.3,705.1 L1393.4,704.9 L1398.5,704.7 L1403.5,704.5 L1408.6,704.2 L1413.7,704.0 L1418.7,703.7 L1423.8,703.5 L1428.9,703.1 L1433.9,702.8 L1439.0,702.4 L1444.1,702.1 L1449.1,701.7 L1454.2,701.3 L1459.3,700.8 L1464.3,700.4 L1469.4,700.0 L1474.5,699.6 L1479.5,699.1 L1484.6,698.5 L1489.7,698.0 L1494.7,697.4 L1499.8,696.9 L1504.9,696.3 L1509.9,695.8 L1515.0,695.3 L1520.1,694.8 L1525.1,694.4 L1530.2,694.0 L1535.3,693.7 L1540.3,693.4 L1545.4,693.0 L1550.5,692.8 L1555.5,692.5 L1560.6,692.2 L1565.7,691.9 L1570.7,691.6 L1575.8,691.3 L1580.9,691.0 L1585.9,690.7 L1591.0,690.3 L1596.1,690.0 L1601.1,689.6 L1606.2,689.3 L1611.3,689.0 L1616.3,688.6 L1621.4,688.3 L1626.5,688.0 L1631.5,687.7 L1636.6,687.4 L1641.7,687.1 L1646.7,686.9 L1651.8,686.7 L1656.9,686.5 L1661.9,686.3 L1667.0,686.0 L1672.1,685.8 L1677.1,685.6 L1682.2,685.4 L1687.3,685.2 L1692.3,685.0 L1697.4,684.8 L1702.5,684.5 L1707.5,684.3 L1712.6,684.1 L1717.7,683.9 L1722.7,683.6 L1727.8,683.4 L1732.9,683.1 L1737.9,682.9 L1743.0,682.7 L1748.1,682.4 L1753.1,682.1 L1758.2,681.8 L1763.3,681.6 L1768.3,681.2 L1773.4,680.9 L1778.5,680.6 L1783.5,680.3 L1788.6,680.1 L1793.7,679.8 L1798.7,679.6 L1803.8,679.4 L1808.9,679.2 L1813.9,679.1 L1819.0,679.0" fill="none" stroke="#237547" stroke-width="5.9" stroke-linejoin="round" stroke-linecap="round"/>
<polygon points="299.00,1421.40 282.20,1392.30 315.80,1392.30" fill="#237547" stroke="#237547" stroke-width="2.0" stroke-linejoin="round"/>
<polygon points="354.73,1378.70 337.93,1349.60 371.53,1349.60" fill="#237547" stroke="#237547" stroke-width="2.0" stroke-linejoin="round"/>
<polygon points="410.47,1281.80 393.67,1252.70 427.27,1252.70" fill="#237547" stroke="#237547" stroke-width="2.0" stroke-linejoin="round"/>
<polygon points="466.20,1173.40 449.40,1144.30 483.00,1144.30" fill="#237547" stroke="#237547" stroke-width="2.0" stroke-linejoin="round"/>
<polygon points="521.93,1061.40 505.13,1032.30 538.73,1032.30" fill="#237547" stroke="#237547" stroke-width="2.0" stroke-linejoin="round"/>
<polygon points="577.67,959.40 560.87,930.30 594.47,930.30" fill="#237547" stroke="#237547" stroke-width="2.0" stroke-linejoin="round"/>
<polygon points="633.40,879.60 616.60,850.50 650.20,850.50" fill="#237547" stroke="#237547" stroke-width="2.0" stroke-linejoin="round"/>
<polygon points="689.13,820.60 672.33,791.50 705.93,791.50" fill="#237547" stroke="#237547" stroke-width="2.0" stroke-linejoin="round"/>
<polygon points="744.87,786.80 728.07,757.70 761.67,757.70" fill="#237547" stroke="#237547" stroke-width="2.0" stroke-linejoin="round"/>
<polygon points="800.60,765.40 783.80,736.30 817.40,736.30" fill="#237547" stroke="#237547" stroke-width="2.0" stroke-linejoin="round"/>
<polygon points="856.33,754.40 839.53,725.30 873.13,725.30" fill="#237547" stroke="#237547" stroke-width="2.0" stroke-linejoin="round"/>
<polygon points="912.07,748.80 895.27,719.70 928.87,719.70" fill="#237547" stroke="#237547" stroke-width="2.0" stroke-linejoin="round"/>
<polygon points="967.80,743.40 951.00,714.30 984.60,714.30" fill="#237547" stroke="#237547" stroke-width="2.0" stroke-linejoin="round"/>
<polygon points="1023.53,738.40 1006.73,709.30 1040.33,709.30" fill="#237547" stroke="#237547" stroke-width="2.0" stroke-linejoin="round"/>
<polygon points="1079.27,733.40 1062.47,704.30 1096.07,704.30" fill="#237547" stroke="#237547" stroke-width="2.0" stroke-linejoin="round"/>
<polygon points="1135.00,729.60 1118.20,700.50 1151.80,700.50" fill="#237547" stroke="#237547" stroke-width="2.0" stroke-linejoin="round"/>
<polygon points="1190.73,727.40 1173.93,698.30 1207.53,698.30" fill="#237547" stroke="#237547" stroke-width="2.0" stroke-linejoin="round"/>
<polygon points="1246.47,726.40 1229.67,697.30 1263.27,697.30" fill="#237547" stroke="#237547" stroke-width="2.0" stroke-linejoin="round"/>
<polygon points="1302.20,726.40 1285.40,697.30 1319.00,697.30" fill="#237547" stroke="#237547" stroke-width="2.0" stroke-linejoin="round"/>
<polygon points="1357.93,725.40 1341.13,696.30 1374.73,696.30" fill="#237547" stroke="#237547" stroke-width="2.0" stroke-linejoin="round"/>
<polygon points="1413.67,723.40 1396.87,694.30 1430.47,694.30" fill="#237547" stroke="#237547" stroke-width="2.0" stroke-linejoin="round"/>
<polygon points="1469.40,719.40 1452.60,690.30 1486.20,690.30" fill="#237547" stroke="#237547" stroke-width="2.0" stroke-linejoin="round"/>
<polygon points="1525.13,713.80 1508.33,684.70 1541.93,684.70" fill="#237547" stroke="#237547" stroke-width="2.0" stroke-linejoin="round"/>
<polygon points="1580.87,710.40 1564.07,681.30 1597.67,681.30" fill="#237547" stroke="#237547" stroke-width="2.0" stroke-linejoin="round"/>
<polygon points="1636.60,706.80 1619.80,677.70 1653.40,677.70" fill="#237547" stroke="#237547" stroke-width="2.0" stroke-linejoin="round"/>
<polygon points="1692.33,704.40 1675.53,675.30 1709.13,675.30" fill="#237547" stroke="#237547" stroke-width="2.0" stroke-linejoin="round"/>
<polygon points="1748.07,701.80 1731.27,672.70 1764.87,672.70" fill="#237547" stroke="#237547" stroke-width="2.0" stroke-linejoin="round"/>
<polygon points="1803.80,698.80 1787.00,669.70 1820.60,669.70" fill="#237547" stroke="#237547" stroke-width="2.0" stroke-linejoin="round"/>
</g>
<g>
<path d="M299.0,1402.0 L304.1,1402.0 L309.1,1400.4 L314.2,1391.0 L319.3,1383.9 L324.3,1377.3 L329.4,1370.3 L334.5,1362.2 L339.5,1352.1 L344.6,1340.6 L349.7,1329.3 L354.7,1319.6 L359.8,1311.4 L364.9,1303.6 L369.9,1296.2 L375.0,1289.1 L380.1,1282.3 L385.1,1275.9 L390.2,1269.7 L395.3,1263.8 L400.3,1258.2 L405.4,1252.8 L410.5,1247.6 L415.5,1242.7 L420.6,1238.0 L425.7,1233.7 L430.7,1229.5 L435.8,1225.4 L440.9,1221.5 L445.9,1217.6 L451.0,1213.8 L456.1,1209.9 L461.1,1206.0 L466.2,1202.0 L471.3,1197.9 L476.3,1193.8 L481.4,1189.8 L486.5,1185.7 L491.5,1181.7 L496.6,1177.6 L501.7,1173.6 L506.7,1169.6 L511.8,1165.6 L516.9,1161.6 L521.9,1157.6 L527.0,1153.6 L532.1,1149.6 L537.1,1145.6 L542.2,1141.6 L547.3,1137.6 L552.3,1133.6 L557.4,1129.7 L562.5,1125.8 L567.5,1121.9 L572.6,1118.1 L577.7,1114.4 L582.7,1110.7 L587.8,1107.1 L592.9,1103.4 L597.9,1099.9 L603.0,1096.3 L608.1,1092.8 L613.1,1089.3 L618.2,1085.9 L623.3,1082.6 L628.3,1079.3 L633.4,1076.0 L638.5,1072.8 L643.5,1069.6 L648.6,1066.5 L653.7,1063.5 L658.7,1060.4 L663.8,1057.4 L668.9,1054.5 L673.9,1051.6 L679.0,1048.7 L684.1,1045.8 L689.1,1043.0 L694.2,1040.2 L699.3,1037.4 L704.3,1034.7 L709.4,1032.0 L714.5,1029.3 L719.5,1026.7 L724.6,1024.1 L729.7,1021.5 L734.7,1019.0 L739.8,1016.5 L744.9,1014.0 L749.9,1011.6 L755.0,1009.2 L760.1,1006.8 L765.1,1004.5 L770.2,1002.1 L775.3,999.9 L780.3,997.6 L785.4,995.4 L790.5,993.2 L795.5,991.1 L800.6,989.0 L805.7,986.9 L810.7,984.8 L815.8,982.8 L820.9,980.7 L825.9,978.7 L831.0,976.8 L836.1,974.9 L841.1,973.0 L846.2,971.3 L851.3,969.6 L856.3,968.0 L861.4,966.5 L866.5,965.1 L871.5,963.7 L876.6,962.3 L881.7,961.1 L886.7,959.8 L891.8,958.6 L896.9,957.4 L901.9,956.2 L907.0,955.1 L912.1,954.0 L917.1,952.9 L922.2,951.8 L927.3,950.8 L932.3,949.8 L937.4,948.8 L942.5,947.8 L947.5,946.9 L952.6,945.9 L957.7,945.0 L962.7,944.1 L967.8,943.2 L972.9,942.3 L977.9,941.4 L983.0,940.6 L988.1,939.7 L993.1,938.8 L998.2,938.0 L1003.3,937.2 L1008.3,936.4 L1013.4,935.6 L1018.5,934.8 L1023.5,934.0 L1028.6,933.2 L1033.7,932.5 L1038.7,931.8 L1043.8,931.1 L1048.9,930.4 L1053.9,929.6 L1059.0,928.9 L1064.1,928.2 L1069.1,927.5 L1074.2,926.8 L1079.3,926.0 L1084.3,925.2 L1089.4,924.4 L1094.5,923.6 L1099.5,922.8 L1104.6,922.0 L1109.7,921.2 L1114.7,920.3 L1119.8,919.4 L1124.9,918.6 L1129.9,917.7 L1135.0,916.8 L1140.1,915.9 L1145.1,914.9 L1150.2,914.0 L1155.3,913.0 L1160.3,912.0 L1165.4,911.0 L1170.5,910.0 L1175.5,909.0 L1180.6,908.0 L1185.7,907.0 L1190.7,906.0 L1195.8,905.0 L1200.9,904.1 L1205.9,903.1 L1211.0,902.2 L1216.1,901.3 L1221.1,900.3 L1226.2,899.4 L1231.3,898.4 L1236.3,897.5 L1241.4,896.6 L1246.5,895.6 L1251.5,894.6 L1256.6,893.7 L1261.7,892.7 L1266.7,891.8 L1271.8,890.8 L1276.9,889.8 L1281.9,888.9 L1287.0,887.9 L1292.1,886.9 L1297.1,886.0 L1302.2,885.0 L1307.3,884.0 L1312.3,883.0 L1317.4,882.0 L1322.5,881.0 L1327.5,880.0 L1332.6,879.0 L1337.7,878.0 L1342.7,877.0 L1347.8,876.0 L1352.9,875.1 L1357.9,874.2 L1363.0,873.3 L1368.1,872.5 L1373.1,871.6 L1378.2,870.8 L1383.3,870.0 L1388.3,869.2 L1393.4,868.4 L1398.5,867.6 L1403.5,866.9 L1408.6,866.1 L1413.7,865.4 L1418.7,864.7 L1423.8,864.0 L1428.9,863.4 L1433.9,862.7 L1439.0,862.1 L1444.1,861.5 L1449.1,860.9 L1454.2,860.3 L1459.3,859.7 L1464.3,859.0 L1469.4,858.4 L1474.5,857.8 L1479.5,857.1 L1484.6,856.5 L1489.7,855.8 L1494.7,855.1 L1499.8,854.5 L1504.9,853.8 L1509.9,853.2 L1515.0,852.5 L1520.1,851.9 L1525.1,851.2 L1530.2,850.5 L1535.3,849.9 L1540.3,849.2 L1545.4,848.5 L1550.5,847.8 L1555.5,847.1 L1560.6,846.4 L1565.7,845.8 L1570.7,845.2 L1575.8,844.6 L1580.9,844.0 L1585.9,843.5 L1591.0,843.0 L1596.1,842.5 L1601.1,842.0 L1606.2,841.6 L1611.3,841.2 L1616.3,840.7 L1621.4,840.3 L1626.5,839.9 L1631.5,839.4 L1636.6,839.0 L1641.7,838.5 L1646.7,838.1 L1651.8,837.7 L1656.9,837.2 L1661.9,836.8 L1667.0,836.3 L1672.1,835.9 L1677.1,835.4 L1682.2,835.0 L1687.3,834.5 L1692.3,834.0 L1697.4,833.5 L1702.5,833.0 L1707.5,832.4 L1712.6,831.9 L1717.7,831.3 L1722.7,830.7 L1727.8,830.1 L1732.9,829.6 L1737.9,829.0 L1743.0,828.5 L1748.1,828.0 L1753.1,827.5 L1758.2,827.0 L1763.3,826.5 L1768.3,826.0 L1773.4,825.6 L1778.5,825.1 L1783.5,824.6 L1788.6,824.2 L1793.7,823.8 L1798.7,823.4 L1803.8,823.0 L1808.9,822.6 L1813.9,822.3 L1819.0,822.0" fill="none" stroke="#7A2DB8" stroke-width="5.9" stroke-linejoin="round" stroke-linecap="round"/>
<polygon points="299.00,1384.60 316.40,1402.00 299.00,1419.40 281.60,1402.00" fill="#7A2DB8" stroke="#7A2DB8" stroke-width="2.0" stroke-linejoin="round"/>
<polygon points="354.73,1302.20 372.13,1319.60 354.73,1337.00 337.33,1319.60" fill="#7A2DB8" stroke="#7A2DB8" stroke-width="2.0" stroke-linejoin="round"/>
<polygon points="410.47,1230.20 427.87,1247.60 410.47,1265.00 393.07,1247.60" fill="#7A2DB8" stroke="#7A2DB8" stroke-width="2.0" stroke-linejoin="round"/>
<polygon points="466.20,1184.60 483.60,1202.00 466.20,1219.40 448.80,1202.00" fill="#7A2DB8" stroke="#7A2DB8" stroke-width="2.0" stroke-linejoin="round"/>
<polygon points="521.93,1140.20 539.33,1157.60 521.93,1175.00 504.53,1157.60" fill="#7A2DB8" stroke="#7A2DB8" stroke-width="2.0" stroke-linejoin="round"/>
<polygon points="577.67,1097.00 595.07,1114.40 577.67,1131.80 560.27,1114.40" fill="#7A2DB8" stroke="#7A2DB8" stroke-width="2.0" stroke-linejoin="round"/>
<polygon points="633.40,1058.60 650.80,1076.00 633.40,1093.40 616.00,1076.00" fill="#7A2DB8" stroke="#7A2DB8" stroke-width="2.0" stroke-linejoin="round"/>
<polygon points="689.13,1025.60 706.53,1043.00 689.13,1060.40 671.73,1043.00" fill="#7A2DB8" stroke="#7A2DB8" stroke-width="2.0" stroke-linejoin="round"/>
<polygon points="744.87,996.60 762.27,1014.00 744.87,1031.40 727.47,1014.00" fill="#7A2DB8" stroke="#7A2DB8" stroke-width="2.0" stroke-linejoin="round"/>
<polygon points="800.60,971.60 818.00,989.00 800.60,1006.40 783.20,989.00" fill="#7A2DB8" stroke="#7A2DB8" stroke-width="2.0" stroke-linejoin="round"/>
<polygon points="856.33,950.60 873.73,968.00 856.33,985.40 838.93,968.00" fill="#7A2DB8" stroke="#7A2DB8" stroke-width="2.0" stroke-linejoin="round"/>
<polygon points="912.07,936.60 929.47,954.00 912.07,971.40 894.67,954.00" fill="#7A2DB8" stroke="#7A2DB8" stroke-width="2.0" stroke-linejoin="round"/>
<polygon points="967.80,925.80 985.20,943.20 967.80,960.60 950.40,943.20" fill="#7A2DB8" stroke="#7A2DB8" stroke-width="2.0" stroke-linejoin="round"/>
<polygon points="1023.53,916.60 1040.93,934.00 1023.53,951.40 1006.13,934.00" fill="#7A2DB8" stroke="#7A2DB8" stroke-width="2.0" stroke-linejoin="round"/>
<polygon points="1079.27,908.60 1096.67,926.00 1079.27,943.40 1061.87,926.00" fill="#7A2DB8" stroke="#7A2DB8" stroke-width="2.0" stroke-linejoin="round"/>
<polygon points="1135.00,899.40 1152.40,916.80 1135.00,934.20 1117.60,916.80" fill="#7A2DB8" stroke="#7A2DB8" stroke-width="2.0" stroke-linejoin="round"/>
<polygon points="1190.73,888.60 1208.13,906.00 1190.73,923.40 1173.33,906.00" fill="#7A2DB8" stroke="#7A2DB8" stroke-width="2.0" stroke-linejoin="round"/>
<polygon points="1246.47,878.20 1263.87,895.60 1246.47,913.00 1229.07,895.60" fill="#7A2DB8" stroke="#7A2DB8" stroke-width="2.0" stroke-linejoin="round"/>
<polygon points="1302.20,867.60 1319.60,885.00 1302.20,902.40 1284.80,885.00" fill="#7A2DB8" stroke="#7A2DB8" stroke-width="2.0" stroke-linejoin="round"/>
<polygon points="1357.93,856.80 1375.33,874.20 1357.93,891.60 1340.53,874.20" fill="#7A2DB8" stroke="#7A2DB8" stroke-width="2.0" stroke-linejoin="round"/>
<polygon points="1413.67,848.00 1431.07,865.40 1413.67,882.80 1396.27,865.40" fill="#7A2DB8" stroke="#7A2DB8" stroke-width="2.0" stroke-linejoin="round"/>
<polygon points="1469.40,841.00 1486.80,858.40 1469.40,875.80 1452.00,858.40" fill="#7A2DB8" stroke="#7A2DB8" stroke-width="2.0" stroke-linejoin="round"/>
<polygon points="1525.13,833.80 1542.53,851.20 1525.13,868.60 1507.73,851.20" fill="#7A2DB8" stroke="#7A2DB8" stroke-width="2.0" stroke-linejoin="round"/>
<polygon points="1580.87,826.60 1598.27,844.00 1580.87,861.40 1563.47,844.00" fill="#7A2DB8" stroke="#7A2DB8" stroke-width="2.0" stroke-linejoin="round"/>
<polygon points="1636.60,821.60 1654.00,839.00 1636.60,856.40 1619.20,839.00" fill="#7A2DB8" stroke="#7A2DB8" stroke-width="2.0" stroke-linejoin="round"/>
<polygon points="1692.33,816.60 1709.73,834.00 1692.33,851.40 1674.93,834.00" fill="#7A2DB8" stroke="#7A2DB8" stroke-width="2.0" stroke-linejoin="round"/>
<polygon points="1748.07,810.60 1765.47,828.00 1748.07,845.40 1730.67,828.00" fill="#7A2DB8" stroke="#7A2DB8" stroke-width="2.0" stroke-linejoin="round"/>
<polygon points="1803.80,805.60 1821.20,823.00 1803.80,840.40 1786.40,823.00" fill="#7A2DB8" stroke="#7A2DB8" stroke-width="2.0" stroke-linejoin="round"/>
</g>
<g>
<path d="M299.0,1402.0 L304.1,1400.6 L309.1,1399.4 L314.2,1398.3 L319.3,1397.5 L324.3,1396.8 L329.4,1395.0 L334.5,1387.3 L339.5,1382.0 L344.6,1382.4 L349.7,1383.2 L354.7,1383.6 L359.8,1383.6 L364.9,1383.5 L369.9,1383.5 L375.0,1383.4 L380.1,1383.2 L385.1,1383.1 L390.2,1382.9 L395.3,1382.8 L400.3,1382.6 L405.4,1382.4 L410.5,1382.2 L415.5,1382.0 L420.6,1381.8 L425.7,1381.5 L430.7,1381.2 L435.8,1380.9 L440.9,1380.5 L445.9,1380.1 L451.0,1379.6 L456.1,1379.1 L461.1,1378.6 L466.2,1378.0 L471.3,1377.3 L476.3,1376.3 L481.4,1375.1 L486.5,1373.7 L491.5,1372.1 L496.6,1370.4 L501.7,1368.6 L506.7,1366.8 L511.8,1364.8 L516.9,1362.9 L521.9,1361.0 L527.0,1359.0 L532.1,1356.8 L537.1,1354.5 L542.2,1352.1 L547.3,1349.6 L552.3,1347.0 L557.4,1344.3 L562.5,1341.7 L567.5,1339.0 L572.6,1336.4 L577.7,1333.8 L582.7,1331.2 L587.8,1328.6 L592.9,1325.8 L597.9,1323.1 L603.0,1320.3 L608.1,1317.6 L613.1,1314.9 L618.2,1312.3 L623.3,1309.8 L628.3,1307.4 L633.4,1305.2 L638.5,1303.1 L643.5,1301.0 L648.6,1299.0 L653.7,1297.1 L658.7,1295.2 L663.8,1293.4 L668.9,1291.6 L673.9,1289.9 L679.0,1288.2 L684.1,1286.6 L689.1,1285.0 L694.2,1283.5 L699.3,1282.1 L704.3,1280.7 L709.4,1279.4 L714.5,1278.1 L719.5,1276.8 L724.6,1275.5 L729.7,1274.2 L734.7,1272.9 L739.8,1271.5 L744.9,1270.0 L749.9,1268.4 L755.0,1266.8 L760.1,1265.1 L765.1,1263.4 L770.2,1261.6 L775.3,1259.8 L780.3,1258.0 L785.4,1256.2 L790.5,1254.5 L795.5,1252.7 L800.6,1251.0 L805.7,1249.3 L810.7,1247.7 L815.8,1246.0 L820.9,1244.4 L825.9,1242.8 L831.0,1241.1 L836.1,1239.5 L841.1,1237.9 L846.2,1236.3 L851.3,1234.6 L856.3,1233.0 L861.4,1231.4 L866.5,1229.7 L871.5,1228.0 L876.6,1226.4 L881.7,1224.7 L886.7,1223.0 L891.8,1221.4 L896.9,1219.8 L901.9,1218.1 L907.0,1216.6 L912.1,1215.0 L917.1,1213.5 L922.2,1211.9 L927.3,1210.4 L932.3,1209.0 L937.4,1207.5 L942.5,1206.0 L947.5,1204.6 L952.6,1203.2 L957.7,1201.8 L962.7,1200.4 L967.8,1199.0 L972.9,1197.7 L977.9,1196.4 L983.0,1195.1 L988.1,1193.8 L993.1,1192.6 L998.2,1191.3 L1003.3,1190.1 L1008.3,1188.8 L1013.4,1187.6 L1018.5,1186.3 L1023.5,1185.0 L1028.6,1183.7 L1033.7,1182.3 L1038.7,1181.0 L1043.8,1179.7 L1048.9,1178.3 L1053.9,1176.9 L1059.0,1175.6 L1064.1,1174.2 L1069.1,1172.8 L1074.2,1171.4 L1079.3,1170.0 L1084.3,1168.6 L1089.4,1167.2 L1094.5,1165.7 L1099.5,1164.3 L1104.6,1162.9 L1109.7,1161.4 L1114.7,1159.9 L1119.8,1158.5 L1124.9,1157.0 L1129.9,1155.5 L1135.0,1154.0 L1140.1,1152.5 L1145.1,1151.0 L1150.2,1149.4 L1155.3,1147.9 L1160.3,1146.3 L1165.4,1144.7 L1170.5,1143.1 L1175.5,1141.6 L1180.6,1140.0 L1185.7,1138.5 L1190.7,1137.0 L1195.8,1135.5 L1200.9,1134.0 L1205.9,1132.5 L1211.0,1131.0 L1216.1,1129.5 L1221.1,1128.0 L1226.2,1126.6 L1231.3,1125.1 L1236.3,1123.7 L1241.4,1122.3 L1246.5,1121.0 L1251.5,1119.7 L1256.6,1118.4 L1261.7,1117.2 L1266.7,1115.9 L1271.8,1114.7 L1276.9,1113.5 L1281.9,1112.3 L1287.0,1111.1 L1292.1,1110.0 L1297.1,1108.8 L1302.2,1107.6 L1307.3,1106.4 L1312.3,1105.3 L1317.4,1104.1 L1322.5,1103.0 L1327.5,1101.8 L1332.6,1100.7 L1337.7,1099.6 L1342.7,1098.4 L1347.8,1097.3 L1352.9,1096.2 L1357.9,1095.0 L1363.0,1093.8 L1368.1,1092.6 L1373.1,1091.5 L1378.2,1090.3 L1383.3,1089.1 L1388.3,1087.9 L1393.4,1086.7 L1398.5,1085.5 L1403.5,1084.3 L1408.6,1083.1 L1413.7,1082.0 L1418.7,1080.9 L1423.8,1079.8 L1428.9,1078.7 L1433.9,1077.6 L1439.0,1076.5 L1444.1,1075.4 L1449.1,1074.3 L1454.2,1073.2 L1459.3,1072.2 L1464.3,1071.1 L1469.4,1070.0 L1474.5,1068.9 L1479.5,1067.8 L1484.6,1066.8 L1489.7,1065.7 L1494.7,1064.6 L1499.8,1063.6 L1504.9,1062.5 L1509.9,1061.4 L1515.0,1060.4 L1520.1,1059.3 L1525.1,1058.2 L1530.2,1057.1 L1535.3,1056.0 L1540.3,1054.9 L1545.4,1053.9 L1550.5,1052.8 L1555.5,1051.7 L1560.6,1050.6 L1565.7,1049.5 L1570.7,1048.3 L1575.8,1047.2 L1580.9,1046.0 L1585.9,1044.8 L1591.0,1043.6 L1596.1,1042.3 L1601.1,1041.0 L1606.2,1039.7 L1611.3,1038.4 L1616.3,1037.1 L1621.4,1035.8 L1626.5,1034.5 L1631.5,1033.2 L1636.6,1032.0 L1641.7,1030.8 L1646.7,1029.5 L1651.8,1028.3 L1656.9,1027.1 L1661.9,1025.9 L1667.0,1024.7 L1672.1,1023.5 L1677.1,1022.3 L1682.2,1021.2 L1687.3,1020.1 L1692.3,1019.0 L1697.4,1017.9 L1702.5,1016.9 L1707.5,1015.8 L1712.6,1014.7 L1717.7,1013.7 L1722.7,1012.7 L1727.8,1011.7 L1732.9,1010.8 L1737.9,1009.9 L1743.0,1009.0 L1748.1,1008.2 L1753.1,1007.4 L1758.2,1006.7 L1763.3,1006.0 L1768.3,1005.4 L1773.4,1004.7 L1778.5,1004.1 L1783.5,1003.5 L1788.6,1002.9 L1793.7,1002.3 L1798.7,1001.6 L1803.8,1001.0 L1808.9,1000.3 L1813.9,999.7 L1819.0,999.0" fill="none" stroke="#886600" stroke-width="5.9" stroke-linejoin="round" stroke-linecap="round"/>
<polygon points="279.60,1402.00 308.70,1385.20 308.70,1418.80" fill="#886600" stroke="#886600" stroke-width="2.0" stroke-linejoin="round"/>
<polygon points="335.33,1383.60 364.43,1366.80 364.43,1400.40" fill="#886600" stroke="#886600" stroke-width="2.0" stroke-linejoin="round"/>
<polygon points="391.07,1382.20 420.17,1365.40 420.17,1399.00" fill="#886600" stroke="#886600" stroke-width="2.0" stroke-linejoin="round"/>
<polygon points="446.80,1378.00 475.90,1361.20 475.90,1394.80" fill="#886600" stroke="#886600" stroke-width="2.0" stroke-linejoin="round"/>
<polygon points="502.53,1361.00 531.63,1344.20 531.63,1377.80" fill="#886600" stroke="#886600" stroke-width="2.0" stroke-linejoin="round"/>
<polygon points="558.27,1333.80 587.37,1317.00 587.37,1350.60" fill="#886600" stroke="#886600" stroke-width="2.0" stroke-linejoin="round"/>
<polygon points="614.00,1305.20 643.10,1288.40 643.10,1322.00" fill="#886600" stroke="#886600" stroke-width="2.0" stroke-linejoin="round"/>
<polygon points="669.73,1285.00 698.83,1268.20 698.83,1301.80" fill="#886600" stroke="#886600" stroke-width="2.0" stroke-linejoin="round"/>
<polygon points="725.47,1270.00 754.57,1253.20 754.57,1286.80" fill="#886600" stroke="#886600" stroke-width="2.0" stroke-linejoin="round"/>
<polygon points="781.20,1251.00 810.30,1234.20 810.30,1267.80" fill="#886600" stroke="#886600" stroke-width="2.0" stroke-linejoin="round"/>
<polygon points="836.93,1233.00 866.03,1216.20 866.03,1249.80" fill="#886600" stroke="#886600" stroke-width="2.0" stroke-linejoin="round"/>
<polygon points="892.67,1215.00 921.77,1198.20 921.77,1231.80" fill="#886600" stroke="#886600" stroke-width="2.0" stroke-linejoin="round"/>
<polygon points="948.40,1199.00 977.50,1182.20 977.50,1215.80" fill="#886600" stroke="#886600" stroke-width="2.0" stroke-linejoin="round"/>
<polygon points="1004.13,1185.00 1033.23,1168.20 1033.23,1201.80" fill="#886600" stroke="#886600" stroke-width="2.0" stroke-linejoin="round"/>
<polygon points="1059.87,1170.00 1088.97,1153.20 1088.97,1186.80" fill="#886600" stroke="#886600" stroke-width="2.0" stroke-linejoin="round"/>
<polygon points="1115.60,1154.00 1144.70,1137.20 1144.70,1170.80" fill="#886600" stroke="#886600" stroke-width="2.0" stroke-linejoin="round"/>
<polygon points="1171.33,1137.00 1200.43,1120.20 1200.43,1153.80" fill="#886600" stroke="#886600" stroke-width="2.0" stroke-linejoin="round"/>
<polygon points="1227.07,1121.00 1256.17,1104.20 1256.17,1137.80" fill="#886600" stroke="#886600" stroke-width="2.0" stroke-linejoin="round"/>
<polygon points="1282.80,1107.60 1311.90,1090.80 1311.90,1124.40" fill="#886600" stroke="#886600" stroke-width="2.0" stroke-linejoin="round"/>
<polygon points="1338.53,1095.00 1367.63,1078.20 1367.63,1111.80" fill="#886600" stroke="#886600" stroke-width="2.0" stroke-linejoin="round"/>
<polygon points="1394.27,1082.00 1423.37,1065.20 1423.37,1098.80" fill="#886600" stroke="#886600" stroke-width="2.0" stroke-linejoin="round"/>
<polygon points="1450.00,1070.00 1479.10,1053.20 1479.10,1086.80" fill="#886600" stroke="#886600" stroke-width="2.0" stroke-linejoin="round"/>
<polygon points="1505.73,1058.20 1534.83,1041.40 1534.83,1075.00" fill="#886600" stroke="#886600" stroke-width="2.0" stroke-linejoin="round"/>
<polygon points="1561.47,1046.00 1590.57,1029.20 1590.57,1062.80" fill="#886600" stroke="#886600" stroke-width="2.0" stroke-linejoin="round"/>
<polygon points="1617.20,1032.00 1646.30,1015.20 1646.30,1048.80" fill="#886600" stroke="#886600" stroke-width="2.0" stroke-linejoin="round"/>
<polygon points="1672.93,1019.00 1702.03,1002.20 1702.03,1035.80" fill="#886600" stroke="#886600" stroke-width="2.0" stroke-linejoin="round"/>
<polygon points="1728.67,1008.20 1757.77,991.40 1757.77,1025.00" fill="#886600" stroke="#886600" stroke-width="2.0" stroke-linejoin="round"/>
<polygon points="1784.40,1001.00 1813.50,984.20 1813.50,1017.80" fill="#886600" stroke="#886600" stroke-width="2.0" stroke-linejoin="round"/>
</g>
<g>
<path d="M299.0,1402.0 L304.1,1398.5 L309.1,1395.3 L314.2,1392.6 L319.3,1390.6 L324.3,1389.5 L329.4,1388.7 L334.5,1388.1 L339.5,1387.7 L344.6,1387.2 L349.7,1386.7 L354.7,1386.0 L359.8,1385.2 L364.9,1384.4 L369.9,1383.5 L375.0,1382.5 L380.1,1381.5 L385.1,1380.4 L390.2,1379.3 L395.3,1378.2 L400.3,1376.9 L405.4,1375.6 L410.5,1374.3 L415.5,1372.9 L420.6,1371.3 L425.7,1369.6 L430.7,1367.7 L435.8,1365.8 L440.9,1363.8 L445.9,1361.8 L451.0,1359.7 L456.1,1357.6 L461.1,1355.4 L466.2,1353.3 L471.3,1351.1 L476.3,1348.9 L481.4,1346.6 L486.5,1344.3 L491.5,1341.9 L496.6,1339.4 L501.7,1337.0 L506.7,1334.5 L511.8,1332.0 L516.9,1329.5 L521.9,1327.0 L527.0,1324.5 L532.1,1321.9 L537.1,1319.4 L542.2,1316.8 L547.3,1314.1 L552.3,1311.5 L557.4,1308.9 L562.5,1306.2 L567.5,1303.6 L572.6,1301.0 L577.7,1298.4 L582.7,1295.8 L587.8,1293.2 L592.9,1290.6 L597.9,1288.1 L603.0,1285.5 L608.1,1282.9 L613.1,1280.4 L618.2,1277.8 L623.3,1275.3 L628.3,1272.8 L633.4,1270.4 L638.5,1268.0 L643.5,1265.6 L648.6,1263.3 L653.7,1260.9 L658.7,1258.6 L663.8,1256.3 L668.9,1254.0 L673.9,1251.8 L679.0,1249.5 L684.1,1247.2 L689.1,1245.0 L694.2,1242.8 L699.3,1240.5 L704.3,1238.3 L709.4,1236.1 L714.5,1234.0 L719.5,1231.8 L724.6,1229.6 L729.7,1227.4 L734.7,1225.3 L739.8,1223.1 L744.9,1221.0 L749.9,1218.9 L755.0,1216.7 L760.1,1214.6 L765.1,1212.5 L770.2,1210.4 L775.3,1208.3 L780.3,1206.2 L785.4,1204.1 L790.5,1202.0 L795.5,1199.9 L800.6,1197.8 L805.7,1195.7 L810.7,1193.6 L815.8,1191.5 L820.9,1189.5 L825.9,1187.4 L831.0,1185.3 L836.1,1183.3 L841.1,1181.2 L846.2,1179.2 L851.3,1177.2 L856.3,1175.2 L861.4,1173.2 L866.5,1171.2 L871.5,1169.3 L876.6,1167.3 L881.7,1165.4 L886.7,1163.4 L891.8,1161.5 L896.9,1159.7 L901.9,1157.8 L907.0,1156.0 L912.1,1154.2 L917.1,1152.5 L922.2,1150.7 L927.3,1149.1 L932.3,1147.4 L937.4,1145.8 L942.5,1144.2 L947.5,1142.6 L952.6,1141.0 L957.7,1139.4 L962.7,1137.8 L967.8,1136.2 L972.9,1134.6 L977.9,1133.0 L983.0,1131.4 L988.1,1129.8 L993.1,1128.2 L998.2,1126.6 L1003.3,1125.1 L1008.3,1123.5 L1013.4,1122.0 L1018.5,1120.5 L1023.5,1119.1 L1028.6,1117.7 L1033.7,1116.3 L1038.7,1114.9 L1043.8,1113.6 L1048.9,1112.2 L1053.9,1110.9 L1059.0,1109.6 L1064.1,1108.3 L1069.1,1107.1 L1074.2,1105.8 L1079.3,1104.6 L1084.3,1103.4 L1089.4,1102.2 L1094.5,1101.0 L1099.5,1099.9 L1104.6,1098.7 L1109.7,1097.6 L1114.7,1096.5 L1119.8,1095.3 L1124.9,1094.2 L1129.9,1093.1 L1135.0,1092.0 L1140.1,1090.9 L1145.1,1089.8 L1150.2,1088.6 L1155.3,1087.5 L1160.3,1086.4 L1165.4,1085.3 L1170.5,1084.2 L1175.5,1083.1 L1180.6,1082.0 L1185.7,1081.0 L1190.7,1080.0 L1195.8,1079.0 L1200.9,1078.1 L1205.9,1077.1 L1211.0,1076.2 L1216.1,1075.3 L1221.1,1074.4 L1226.2,1073.6 L1231.3,1072.7 L1236.3,1071.8 L1241.4,1070.9 L1246.5,1070.0 L1251.5,1069.1 L1256.6,1068.2 L1261.7,1067.2 L1266.7,1066.3 L1271.8,1065.4 L1276.9,1064.5 L1281.9,1063.6 L1287.0,1062.7 L1292.1,1061.8 L1297.1,1060.9 L1302.2,1060.0 L1307.3,1059.1 L1312.3,1058.3 L1317.4,1057.5 L1322.5,1056.7 L1327.5,1055.9 L1332.6,1055.1 L1337.7,1054.3 L1342.7,1053.5 L1347.8,1052.7 L1352.9,1051.9 L1357.9,1051.0 L1363.0,1050.1 L1368.1,1049.2 L1373.1,1048.3 L1378.2,1047.4 L1383.3,1046.5 L1388.3,1045.6 L1393.4,1044.7 L1398.5,1043.8 L1403.5,1042.8 L1408.6,1041.9 L1413.7,1041.0 L1418.7,1040.1 L1423.8,1039.2 L1428.9,1038.3 L1433.9,1037.3 L1439.0,1036.4 L1444.1,1035.5 L1449.1,1034.6 L1454.2,1033.7 L1459.3,1032.8 L1464.3,1031.9 L1469.4,1031.0 L1474.5,1030.1 L1479.5,1029.3 L1484.6,1028.4 L1489.7,1027.6 L1494.7,1026.8 L1499.8,1025.9 L1504.9,1025.1 L1509.9,1024.3 L1515.0,1023.4 L1520.1,1022.5 L1525.1,1021.6 L1530.2,1020.7 L1535.3,1019.7 L1540.3,1018.7 L1545.4,1017.8 L1550.5,1016.7 L1555.5,1015.7 L1560.6,1014.7 L1565.7,1013.7 L1570.7,1012.7 L1575.8,1011.6 L1580.9,1010.6 L1585.9,1009.6 L1591.0,1008.5 L1596.1,1007.5 L1601.1,1006.4 L1606.2,1005.4 L1611.3,1004.3 L1616.3,1003.3 L1621.4,1002.2 L1626.5,1001.1 L1631.5,1000.1 L1636.6,999.0 L1641.7,997.9 L1646.7,996.8 L1651.8,995.8 L1656.9,994.7 L1661.9,993.6 L1667.0,992.5 L1672.1,991.4 L1677.1,990.3 L1682.2,989.2 L1687.3,988.1 L1692.3,987.0 L1697.4,985.9 L1702.5,984.8 L1707.5,983.7 L1712.6,982.6 L1717.7,981.5 L1722.7,980.4 L1727.8,979.3 L1732.9,978.2 L1737.9,977.1 L1743.0,976.1 L1748.1,975.0 L1753.1,974.0 L1758.2,973.1 L1763.3,972.2 L1768.3,971.3 L1773.4,970.4 L1778.5,969.5 L1783.5,968.6 L1788.6,967.6 L1793.7,966.5 L1798.7,965.3 L1803.8,964.0 L1808.9,962.4 L1813.9,960.5 L1819.0,958.5" fill="none" stroke="#008B8B" stroke-width="5.9" stroke-linejoin="round" stroke-linecap="round"/>
<polygon points="318.40,1402.00 289.30,1385.20 289.30,1418.80" fill="#008B8B" stroke="#008B8B" stroke-width="2.0" stroke-linejoin="round"/>
<polygon points="374.13,1386.00 345.03,1369.20 345.03,1402.80" fill="#008B8B" stroke="#008B8B" stroke-width="2.0" stroke-linejoin="round"/>
<polygon points="429.87,1374.30 400.77,1357.50 400.77,1391.10" fill="#008B8B" stroke="#008B8B" stroke-width="2.0" stroke-linejoin="round"/>
<polygon points="485.60,1353.30 456.50,1336.50 456.50,1370.10" fill="#008B8B" stroke="#008B8B" stroke-width="2.0" stroke-linejoin="round"/>
<polygon points="541.33,1327.00 512.23,1310.20 512.23,1343.80" fill="#008B8B" stroke="#008B8B" stroke-width="2.0" stroke-linejoin="round"/>
<polygon points="597.07,1298.40 567.97,1281.60 567.97,1315.20" fill="#008B8B" stroke="#008B8B" stroke-width="2.0" stroke-linejoin="round"/>
<polygon points="652.80,1270.40 623.70,1253.60 623.70,1287.20" fill="#008B8B" stroke="#008B8B" stroke-width="2.0" stroke-linejoin="round"/>
<polygon points="708.53,1245.00 679.43,1228.20 679.43,1261.80" fill="#008B8B" stroke="#008B8B" stroke-width="2.0" stroke-linejoin="round"/>
<polygon points="764.27,1221.00 735.17,1204.20 735.17,1237.80" fill="#008B8B" stroke="#008B8B" stroke-width="2.0" stroke-linejoin="round"/>
<polygon points="820.00,1197.80 790.90,1181.00 790.90,1214.60" fill="#008B8B" stroke="#008B8B" stroke-width="2.0" stroke-linejoin="round"/>
<polygon points="875.73,1175.20 846.63,1158.40 846.63,1192.00" fill="#008B8B" stroke="#008B8B" stroke-width="2.0" stroke-linejoin="round"/>
<polygon points="931.47,1154.20 902.37,1137.40 902.37,1171.00" fill="#008B8B" stroke="#008B8B" stroke-width="2.0" stroke-linejoin="round"/>
<polygon points="987.20,1136.20 958.10,1119.40 958.10,1153.00" fill="#008B8B" stroke="#008B8B" stroke-width="2.0" stroke-linejoin="round"/>
<polygon points="1042.93,1119.10 1013.83,1102.30 1013.83,1135.90" fill="#008B8B" stroke="#008B8B" stroke-width="2.0" stroke-linejoin="round"/>
<polygon points="1098.67,1104.60 1069.57,1087.80 1069.57,1121.40" fill="#008B8B" stroke="#008B8B" stroke-width="2.0" stroke-linejoin="round"/>
<polygon points="1154.40,1092.00 1125.30,1075.20 1125.30,1108.80" fill="#008B8B" stroke="#008B8B" stroke-width="2.0" stroke-linejoin="round"/>
<polygon points="1210.13,1080.00 1181.03,1063.20 1181.03,1096.80" fill="#008B8B" stroke="#008B8B" stroke-width="2.0" stroke-linejoin="round"/>
<polygon points="1265.87,1070.00 1236.77,1053.20 1236.77,1086.80" fill="#008B8B" stroke="#008B8B" stroke-width="2.0" stroke-linejoin="round"/>
<polygon points="1321.60,1060.00 1292.50,1043.20 1292.50,1076.80" fill="#008B8B" stroke="#008B8B" stroke-width="2.0" stroke-linejoin="round"/>
<polygon points="1377.33,1051.00 1348.23,1034.20 1348.23,1067.80" fill="#008B8B" stroke="#008B8B" stroke-width="2.0" stroke-linejoin="round"/>
<polygon points="1433.07,1041.00 1403.97,1024.20 1403.97,1057.80" fill="#008B8B" stroke="#008B8B" stroke-width="2.0" stroke-linejoin="round"/>
<polygon points="1488.80,1031.00 1459.70,1014.20 1459.70,1047.80" fill="#008B8B" stroke="#008B8B" stroke-width="2.0" stroke-linejoin="round"/>
<polygon points="1544.53,1021.60 1515.43,1004.80 1515.43,1038.40" fill="#008B8B" stroke="#008B8B" stroke-width="2.0" stroke-linejoin="round"/>
<polygon points="1600.27,1010.60 1571.17,993.80 1571.17,1027.40" fill="#008B8B" stroke="#008B8B" stroke-width="2.0" stroke-linejoin="round"/>
<polygon points="1656.00,999.00 1626.90,982.20 1626.90,1015.80" fill="#008B8B" stroke="#008B8B" stroke-width="2.0" stroke-linejoin="round"/>
<polygon points="1711.73,987.00 1682.63,970.20 1682.63,1003.80" fill="#008B8B" stroke="#008B8B" stroke-width="2.0" stroke-linejoin="round"/>
<polygon points="1767.47,975.00 1738.37,958.20 1738.37,991.80" fill="#008B8B" stroke="#008B8B" stroke-width="2.0" stroke-linejoin="round"/>
<polygon points="1823.20,964.00 1794.10,947.20 1794.10,980.80" fill="#008B8B" stroke="#008B8B" stroke-width="2.0" stroke-linejoin="round"/>
</g>
</g>
<g id="legend" shape-rendering="crispEdges">
<rect x="1432.6" y="1144" width="490.9" height="224.4" fill="#fff" stroke="#000" stroke-width="2.5"/>
<line x1="1439.0" y1="1172.9" x2="1527.0" y2="1172.9" stroke="#363636" stroke-width="5.9" stroke-linecap="round"/>
<rect x="1470.20" y="1160.60" width="24.60" height="24.60" fill="#363636" stroke="#363636" stroke-width="2.0" stroke-linejoin="round"/>
<text class="lg" transform="translate(1549.6 1189.8) scale(1 1.05)">0 m/s</text>
<line x1="1439.0" y1="1227.5" x2="1527.0" y2="1227.5" stroke="#BF0D0D" stroke-width="5.9" stroke-linecap="round"/>
<circle cx="1482.50" cy="1227.50" r="14.8" fill="#BF0D0D"/>
<text class="lg" transform="translate(1549.6 1244.4) scale(1 1.05)">6 m/s</text>
<line x1="1439.0" y1="1282.1" x2="1527.0" y2="1282.1" stroke="#114894" stroke-width="5.9" stroke-linecap="round"/>
<polygon points="1482.50,1262.70 1465.70,1291.80 1499.30,1291.80" fill="#114894" stroke="#114894" stroke-width="2.0" stroke-linejoin="round"/>
<text class="lg" transform="translate(1549.6 1299.0) scale(1 1.05)">10 m/s</text>
<line x1="1439.0" y1="1336.7" x2="1527.0" y2="1336.7" stroke="#237547" stroke-width="5.9" stroke-linecap="round"/>
<polygon points="1482.50,1356.10 1465.70,1327.00 1499.30,1327.00" fill="#237547" stroke="#237547" stroke-width="2.0" stroke-linejoin="round"/>
<text class="lg" transform="translate(1549.6 1353.6) scale(1 1.05)">14 m/s</text>
<line x1="1689.0" y1="1172.9" x2="1777.0" y2="1172.9" stroke="#7A2DB8" stroke-width="5.9" stroke-linecap="round"/>
<polygon points="1732.50,1155.50 1749.90,1172.90 1732.50,1190.30 1715.10,1172.90" fill="#7A2DB8" stroke="#7A2DB8" stroke-width="2.0" stroke-linejoin="round"/>
<text class="lg" transform="translate(1799.6 1189.8) scale(1 1.05)">18 m/s</text>
<line x1="1689.0" y1="1227.5" x2="1777.0" y2="1227.5" stroke="#886600" stroke-width="5.9" stroke-linecap="round"/>
<polygon points="1713.10,1227.50 1742.20,1210.70 1742.20,1244.30" fill="#886600" stroke="#886600" stroke-width="2.0" stroke-linejoin="round"/>
<text class="lg" transform="translate(1799.6 1244.4) scale(1 1.05)">22 m/s</text>
<line x1="1689.0" y1="1282.1" x2="1777.0" y2="1282.1" stroke="#008B8B" stroke-width="5.9" stroke-linecap="round"/>
<polygon points="1751.90,1282.10 1722.80,1265.30 1722.80,1298.90" fill="#008B8B" stroke="#008B8B" stroke-width="2.0" stroke-linejoin="round"/>
<text class="lg" transform="translate(1799.6 1299.0) scale(1 1.05)">24 m/s</text>
</g>
</svg>
</body>
</html>
